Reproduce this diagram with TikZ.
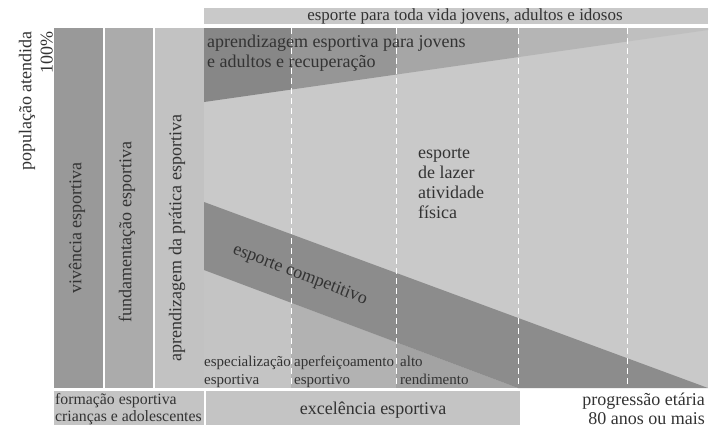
\documentclass[tikz,border=0pt]{standalone}
\usepackage{fontspec}
\setmainfont{Liberation Serif}
\begin{document}
\begin{tikzpicture}[x=1pt,y=-1pt,
  lbl/.style={inner sep=0pt,text=black!80,font=\fontsize{18}{20}\selectfont},
  sml/.style={inner sep=0pt,text=black!80,font=\fontsize{15}{18}\selectfont,align=left},
  sep/.style={white,line width=1pt,dash pattern=on 6pt off 4pt}]
\useasboundingbox (0,0) rectangle (717,429);
\fill[white] (0,0) rectangle (717,429);
% top bar
\fill[black!21] (204,8) rectangle (708,24);
% left columns
\fill[black!40] (54,28) rectangle (103,388);
\fill[black!33] (105,28) rectangle (153,388);
\fill[black!24] (155,28) rectangle (204,388);
% main area
\fill[black!21] (204,28) rectangle (708,388);
% wedge segments
\fill[black!47] (204,28) -- (291,28) -- (291,89.57) -- (204,102) -- cycle;
\fill[black!41] (291,28) -- (396,28) -- (396,74.57) -- (291,89.57) -- cycle;
\fill[black!35] (396,28) -- (518,28) -- (518,57.14) -- (396,74.57) -- cycle;
\fill[black!29] (518,28) -- (627,28) -- (627,41.57) -- (518,57.14) -- cycle;
\fill[black!25] (627,28) -- (708,28) -- (708,30) -- (627,41.57) -- cycle;
% below competitive band
\begin{scope}
\clip (204,270) -- (518,388) -- (204,388) -- cycle;
\fill[black!23] (204,200) rectangle (291,388);
\fill[black!30] (291,200) rectangle (396,388);
\fill[black!36] (396,200) rectangle (518,388);
\end{scope}
% competitive band
\fill[black!45] (204,202) -- (708,388) -- (518,388) -- (204,270) -- cycle;
% dashed separators
\foreach \xx in {291,396,518,627} \draw[sep] (\xx,28) -- (\xx,388);
% bottom boxes
\fill[black!23] (54,391) rectangle (204,425);
\fill[black!23] (206,391) rectangle (520,425);
% texts
\node[lbl,font=\fontsize{17}{19}\selectfont] (top) at (465,16.5) {esporte para toda vida jovens, adultos e idosos};
\node[lbl,anchor=north west,align=left] (apr) at (207,35) {aprendizagem esportiva para jovens\\e adultos e recuperação};
\node[lbl,anchor=north west,align=left] (laz) at (418,148) {esporte\\de lazer\\atividade\\física};
\node[lbl,rotate=-21] (comp) at (300,275) {esporte competitivo};
\node[lbl,rotate=90] (viv) at (77,228) {vivência esportiva};
\node[lbl,rotate=90] (fund) at (127,232) {fundamentação esportiva};
\node[lbl,rotate=90] (aprp) at (177,238) {aprendizagem da prática esportiva};
\node[sml,anchor=north west] (esp) at (204,356) {especialização\\esportiva};
\node[sml,anchor=north west] (aper) at (294,356) {aperfeiçoamento\\esportivo};
\node[sml,anchor=north west] (alto) at (400,356) {alto\\rendimento};
\node[sml,anchor=north west,font=\fontsize{15.8}{17.5}\selectfont] (form) at (55,393) {formação esportiva\\crianças e adolescentes};
\node[lbl] (exc) at (373,410) {excelência esportiva};
\node[lbl,anchor=north east,align=right,font=\fontsize{18}{18.5}\selectfont] (prog) at (705,393) {progressão etária\\80 anos ou mais};
\node[lbl,rotate=90] (pop) at (27,101) {população atendida};
\node[lbl,rotate=90,anchor=south east] (cem) at (53,31) {100\%};
\end{tikzpicture}
\end{document}
